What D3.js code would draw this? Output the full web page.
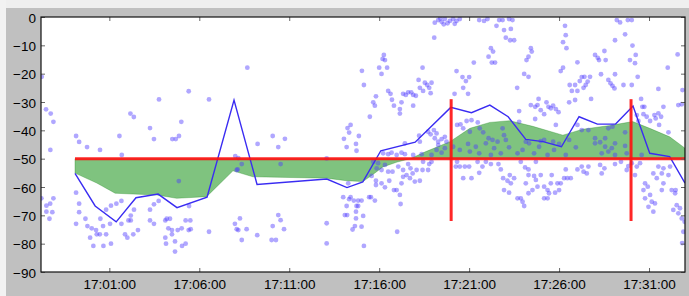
<!DOCTYPE html>
<html>
<head>
<meta charset="utf-8">
<script src="https://cdn.jsdelivr.net/npm/d3@7"></script>
<style>
  body { margin: 0; background: #c0c0c0; }
  svg { display: block; }
  text { font-family: "Liberation Sans", Arial, Helvetica, sans-serif; }
</style>
</head>
<body>
<div id="chart"></div>
<script>
// minutes after 17:00:00, signal level
var startTime = "16:57:12",
    endTime = "17:33:00",
    baseTime = "17:00:00";

var xTickLabels = ["17:01:00", "17:06:00", "17:11:00", "17:16:00", "17:21:00", "17:26:00", "17:31:00"];
var yTicks = [0, -10, -20, -30, -40, -50, -60, -70, -80, -90];

var threshold = -50;
var markerMinutes = [20, 30];
var markerRange = [-29, -72];

// raw samples (scatter)
var samples = [
  [-2.76,-21.1],[-2.52,-32.6],[-2.26,-34.1],[-2.11,-37],[-0.85,-42],[-0.68,-44.1],[-0.24,-45.9],[0.48,-46.9],[1.56,-42],[2.17,-34.1],
  [2.36,-35.3],[3.26,-39.2],[3.48,-43.1],[3.76,-29.1],[4.5,-43.1],[4.69,-43.1],[4.87,-42],[5,-37],[5.41,-26.2],[6.54,-29.1],
  [-2.28,-46.9],[-2.78,-64],[-2.5,-66.6],[-2.29,-65.9],[-2.11,-64],[-2.5,-68.7],[-2.17,-68.9],[-2.33,-71.2],[-0.85,-62],[-0.68,-65.9],
  [-0.68,-68.9],[-0.85,-73],[-0.33,-71.2],[-0.22,-73.8],[-0.07,-77.9],[0.11,-80.8],[0.02,-74.6],[0.26,-75.2],[0.3,-76.7],[0.47,-76.7],
  [0.5,-71.2],[0.65,-73.8],[0.67,-80.8],[0.82,-76.7],[0.82,-68],[1.09,-66.6],[1.04,-73],[1.09,-80],[1.39,-65.9],[1.67,-64.9],
  [1.67,-73],[1.69,-48.7],[1.87,-76.7],[2,-77.9],[2.06,-71.8],[2.19,-70.1],[2.19,-71.8],[2.33,-76.7],[2.37,-68],[2.59,-75.2],
  [3.26,-68],[3.26,-71.8],[3.48,-73],[3.48,-66.1],[3.74,-64.9],[4.11,-71.8],[4.11,-77.9],[4.19,-71.2],[4.37,-71.2],[4.28,-74.6],
  [4.48,-76.7],[4.48,-75.2],[4.15,-80],[4.65,-79.2],[4.65,-82.8],[4.8,-75.2],[4.86,-57.9],[5.02,-74.6],[5.04,-80.8],[5.24,-71.8],
  [5.24,-80],[5.41,-75.2],[5.43,-66.7],[5.5,-71.8],[5.52,-74.9],[6.54,-75.8],[8,-49.1],[8.17,-49.8],[7.98,-73],[8.17,-75.2],[8.13,-53.8],
  [8.67,-17.9],[9.24,-44.8],[10.08,-42],[10.39,-45.9],[10.76,-43],[14.04,-43],[14.19,-45.9],[14.24,-39.2],[14.41,-38.1],[14.33,-40.8],
  [14.71,-44.8],[14.87,-42],[15.04,-19],[15.15,-24],[15.48,-35.2],[8.36,-51.9],[8.08,-54],[10.52,-51.9],[13.08,-49.9],[14.74,-47.2],
  [14.28,-58.7],[14,-63.6],[14.41,-63.6],[14.33,-64.3],[14.19,-66.7],[14.59,-64.8],[14.83,-64.8],[15.02,-64.8],[14.74,-66.7],[14.83,-66.7],
  [14.71,-68.7],[14.09,-69.9],[14.22,-69.9],[14.71,-71.1],[15.11,-70.2],[14.65,-73.8],[14.52,-75],[15.02,-74],[15.15,-80.8],[15.44,-63.6],
  [15.76,-64.8],[8.26,-71.1],[8.08,-74.9],[8.36,-78.7],[8.63,-74.9],[9.22,-77],[10.08,-73.8],[10.39,-69.9],[10.52,-71.7],[10.71,-74.9],
  [10.02,-78.7],[10.26,-78.7],[13.08,-72.8],[13.08,-79.9],[15.82,-59.3],[16.13,-58.7],
  [19.28,-1.1],[19.47,-1.7],[19.65,-0.7],[19.93,-1.4],[20.11,-0.7],[20.3,-1.4],[20.48,-0.7],[19.59,-2.6],[19.06,-7.3],[19.09,-2],
  [19.4,-0.5],[19.8,-2.2],[20.2,-2.4],[16.26,-13.4],[16.19,-14.8],[16.32,-15.2],[16,-17.9],[16.44,-17.9],[16.13,-20.1],[18.41,-17.9],
  [20.3,-19.1],[20.63,-21.2],[21,-21.2],[20.82,-22.6],[21.26,-16.1],[18.19,-22.2],[18.54,-23.2],[18.67,-24],[18.91,-23.2],[18.78,-25],
  [18.26,-25],[18.86,-26.9],[18.44,-26.1],[20.67,-25],[20.94,-27.1],[20.19,-27.1],[16.5,-26.1],[16.63,-27.1],[15.82,-28],[16.71,-29.2],
  [15.67,-30.1],[15.76,-31.3],[16.82,-31.3],[17.33,-27.1],[17.48,-27.5],[17.61,-26.6],[17.78,-26.6],[17.89,-27.5],[18.04,-27.8],[17.24,-30.1],
  [17.15,-32.5],[17.15,-34.1],[17.89,-31.3],[20.33,-38.1],[20.52,-37.9],[20.86,-36.7],[21.13,-36.4],[20.67,-39.3],[21.04,-40.5],[18.22,-41.9],
  [18.72,-40.5],[18.86,-41.4],[19.04,-39.9],[19.19,-41.1],[19.09,-42.8],[19.28,-44],[19.47,-43.1],[19.65,-42.3],[19.74,-44],[17.43,-44.6],[18.26,-44],
  [21.56,-1.1],[21.83,-1.4],[22.02,-0.7],[22.67,-1.1],[22.86,-1.1],[23.22,-0.7],[23.41,-1.1],[22.52,-3.1],[22.94,-4.6],[23.32,-4.2],
  [23.04,-7.3],[23.28,-8.2],[23.5,-8.2],[26.33,-3.1],[26.37,-6.4],[26.22,-8.9],[26.41,-11],[22.21,-11],[22.33,-12.2],[22.08,-14],
  [22.26,-16.1],[22.44,-16.1],[24.43,-11],[24.48,-12.2],[24.3,-14],[24.19,-15.2],[27.02,-16],[26.22,-17.9],[26.09,-19.1],[24.06,-20.1],
  [24.3,-21.1],[27.26,-21.2],[27.15,-22.6],[23.67,-25],[26.59,-24],[26.89,-24],[26.71,-26.1],[27.02,-26.1],[26.89,-29.3],[26.56,-30.1],
  [24.86,-28.9],[24.43,-31.1],[24.67,-31.7],[24.8,-31.1],[25.3,-30.1],[25.41,-31.7],[25.54,-32.2],[25.67,-31.3],[25.82,-32.5],[24.98,-32.9],
  [25.17,-34.3],[25.97,-33.6],[23.78,-33.2],[24.67,-36],[23.78,-37],[25.82,-38.1],[21.48,-37.2],[21.59,-39.3],[22.86,-39.3],[22.08,-42.8],
  [22.94,-41.7],[23.04,-43.4],[22.3,-43.4],[21.78,-40.7],[25.17,-43.4],[25.67,-44],[27.02,-38.1],[27.26,-39.9],[26.56,-43.4],[24.15,-44],[24.98,-43.8],
  [29.21,-1.1],[29.39,-1.9],[29.82,-1.1],[30.04,-1.1],[29.67,-6.1],[29.11,-8.2],[30.08,-10.1],[28.52,-12],[28,-13.4],[28.15,-14.4],
  [28.22,-15.2],[28.59,-15.2],[30.26,-13.4],[29.94,-15.2],[30.22,-16.3],[32.59,-13.2],[32.04,-17.9],[27.41,-21.1],[27.72,-21.1],[27.59,-22.8],
  [27.48,-24],[27.36,-25],[28.33,-20.2],[29.11,-20.2],[28.74,-22.2],[28.86,-23.4],[28.97,-24.3],[29.08,-25.2],[29.58,-24],[30.04,-24],
  [30.37,-21.1],[27.78,-28.9],[31.52,-25.4],[32.86,-25.8],[32.63,-31.1],[32.82,-30.8],[30.56,-28.9],[30.63,-31.7],[30.74,-31.7],[30.69,-34.3],
  [30.87,-35.2],[31.06,-36.7],[31.3,-34.6],[31.52,-34],[31.67,-35.2],[31.37,-35.8],[31.8,-31.7],[31.56,-38.1],[32.08,-40.7],[30.32,-34.6],
  [30.41,-36.7],[28.97,-38.7],[28.74,-39.3],[29.67,-40.7],[27.63,-39.9],[28,-42.8],[28.56,-42.8],[28.28,-44.2],[29.11,-44.6],
  [16.22,-48.1],[16.5,-48.4],[16.69,-47.9],[16.97,-48.7],[17.24,-47.9],[17.43,-48.4],[17.89,-48.7],[18.36,-48.4],[18.91,-48.7],[19.19,-46.9],
  [19.47,-47.9],[19.65,-46.3],[19.28,-45.2],[20.11,-45.8],[20.48,-46.9],[20.94,-44.8],[21.04,-47.5],[21.37,-45.8],[15.94,-51.6],[15.67,-51.1],
  [16.32,-52.2],[15.86,-53.4],[16.13,-54],[16.5,-54.6],[16.74,-54.6],[17.06,-52.8],[17.33,-54],[17.61,-51.9],[17.74,-53.4],[17.86,-55.2],
  [18.08,-54],[17.52,-55.8],[17.33,-56.4],[17.71,-56.9],[17.98,-58.1],[18.26,-57.8],[18.41,-54],[18.72,-54],[18.78,-51.9],[18.44,-51.1],
  [18.91,-51.1],[15.58,-56.1],[15.82,-57.8],[16.32,-60.1],[16.56,-57.8],[16.82,-61.1],[16.97,-61.1],[17.15,-62.8],[17.24,-58.7],[15.54,-63.6],
  [17.19,-66],[17,-75.8],[20.26,-52.8],[20.48,-52.8],[20.76,-52.8],[21,-52.8],[20.67,-56.9],[21.13,-56.9],[20.33,-51.1],
  [21.93,-44.6],[22.39,-46.3],[22.76,-48.1],[23.22,-46],[23.69,-48.1],[23.97,-46.9],[24.61,-48.1],[24.89,-45.8],[25.36,-48.7],[25.72,-46.9],
  [26.37,-48.7],[26.93,-46],[22.21,-48.7],[21.56,-48.1],[22.58,-44],[24.33,-44.6],[26,-44.8],
  [21.47,-51.1],[21.74,-52.8],[21.56,-55],[21.93,-51.1],[22.21,-51.9],[22.63,-51.9],[22.76,-53.8],[23.87,-51.1],[24.71,-51.1],[24.11,-53.1],
  [24.3,-53.8],[22.89,-56.9],[23.13,-57.8],[23.26,-55.8],[23.32,-58.7],[23.5,-56.9],[22.94,-61.1],[23.22,-62],[24.15,-58.7],[24.3,-55.8],
  [24.61,-56.1],[24.71,-57.5],[24.8,-59.9],[24.52,-61.1],[24.98,-55.8],[25.17,-59.9],[25.36,-61.1],[25.44,-62.2],[25.59,-55.8],[25.54,-58.7],
  [25.78,-62],[25.91,-58.7],[26.09,-58.7],[26,-61.1],[26.28,-56.9],[26.46,-56.9],[26.65,-56.9],[26.37,-53.8],[27.02,-53.8],[27.26,-52.8],
  [24.3,-62.2],[23.69,-64],[23.87,-64],[23.97,-65.2],[24.06,-66.7],[25.17,-64],[25.36,-64],
  [28,-44.6],[28.56,-45.8],[28.93,-46.3],[29.11,-48.7],[29.67,-45.5],[29.76,-48.1],[30.59,-48.7],[28.37,-48.1],[28.74,-47.5],
  [27.36,-54.6],[27.54,-55.2],[27.63,-52.8],[28.28,-52.2],[28.37,-55.2],[28.52,-53.4],[29.11,-51.9],[29.44,-51.1],[29.76,-54],[29.85,-52.6],
  [30.04,-51.6],[30.32,-52.8],[30.5,-51.6],[30.22,-55.8],[30.78,-58.7],[30.93,-59.9],[30.69,-61.1],[31.06,-62.8],[30.78,-64],[31.15,-65.2],
  [30.97,-67],[31.24,-68.7],[31.33,-65.8],[31.24,-55.2],[31.43,-56.9],[31.52,-52.8],[31.8,-53.4],[31.71,-55.2],[31.8,-58.7],[31.71,-61.1],
  [32.08,-55.8],[32.17,-52.8],[32.26,-61.1],[32.45,-62.2],[32.48,-61.1],[32.35,-68.1],[32.54,-66.4],[32.72,-67.5],[32.63,-69.3],[32.82,-71.1],
  [32.91,-75.8],[32.98,-72.3],[32.84,-79.8]
];

// per-minute average (blue line)
var lineMinutes = [-0.91, 0.21, 1.38, 2.48, 3.71, 4.76, 6.43, 7.93, 9.21, 13.09, 14.21, 15.09, 16.09, 18.0,
  19.98, 21.13, 22.15, 23.17, 24.15, 25.11, 26.13, 27.11, 28.13, 29.14, 30.11, 31.04, 32.15, 33.0];
var lineValues = [-55.2, -66.7, -72.3, -63.8, -62.5, -67.3, -63.6, -29.3, -59.1, -57.2, -60.2, -58.2, -47.2, -44.2,
  -31.9, -33.8, -31.1, -35.2, -43.2, -44, -45.8, -35.2, -37.8, -37.8, -31.4, -48.1, -49.3, -58.6];

// smoothed trend (green band against threshold)
var bandMinutes = [-0.91, 0.3, 1.32, 2.32, 3.63, 4.74, 6.41, 7.87, 8.98, 13.08, 14.19, 15.09, 15.65, 16.21, 17.0,
  17.73, 18.56, 19.93, 21.04, 22.15, 23.26, 24.54, 26.21, 27.32, 28.82, 30.09, 31.04, 32.15, 33.0];
var bandValues = [-55.1, -58.6, -62.2, -62.5, -62.8, -64, -63.4, -54.3, -56.4, -56.9, -57.8, -58.1, -55.6, -52.9, -51.2,
  -50, -47.6, -44, -39.3, -37.2, -36.6, -38.6, -41.7, -39.6, -38.3, -36.9, -39.3, -42.3, -46.3];

var W = 689, H = 296;
var margin = {top: 17, right: 4, bottom: 24, left: 41};
var width = W - margin.left - margin.right,
    height = H - margin.top - margin.bottom;

var parse = d3.timeParse("%H:%M:%S");
var base = parse(baseTime);
function at(m) { return new Date(base.getTime() + m * 60000); }

var x = d3.scaleTime().domain([parse(startTime), parse(endTime)]).range([0, width]);
var y = d3.scaleLinear().domain([-90, 0]).range([height, 0]);

var svg = d3.select("#chart").append("svg").attr("width", W).attr("height", H);

// window chrome strips
svg.append("rect").attr("x", 0).attr("y", 0).attr("width", W).attr("height", 8).attr("fill", "#efefef");
svg.append("rect").attr("x", 0).attr("y", 0).attr("width", 6).attr("height", H).attr("fill", "#f2f2f2");

var g = svg.append("g").attr("transform", "translate(" + margin.left + "," + margin.top + ")");

g.append("defs").append("clipPath").attr("id", "plot-clip")
  .append("rect").attr("width", width).attr("height", height);

g.append("rect").attr("width", width).attr("height", height).attr("fill", "#fff");

var plot = g.append("g").attr("clip-path", "url(#plot-clip)");

var band = bandMinutes.map(function(m, i) { return {t: at(m), v: bandValues[i]}; });
var avg = lineMinutes.map(function(m, i) { return {t: at(m), v: lineValues[i]}; });

plot.append("path")
  .datum(band)
  .attr("fill", "rgb(0,135,0)")
  .attr("fill-opacity", 0.5)
  .attr("stroke", "rgb(0,120,0)")
  .attr("stroke-opacity", 0.35)
  .attr("stroke-width", 0.8)
  .attr("d", d3.area()
    .x(function(d) { return x(d.t); })
    .y0(y(threshold))
    .y1(function(d) { return y(d.v); }));

plot.selectAll("circle.sample")
  .data(samples)
  .enter()
  .append("circle")
  .attr("class", "sample")
  .attr("cx", function(d) { return x(at(d[0])); })
  .attr("cy", function(d) { return y(d[1]); })
  .attr("r", 2.4)
  .attr("fill", "rgb(80,60,255)")
  .attr("fill-opacity", 0.45);

plot.append("path")
  .datum(avg)
  .attr("fill", "none")
  .attr("stroke", "#3a2cf2")
  .attr("stroke-width", 1.4)
  .attr("d", d3.line()
    .x(function(d) { return x(d.t); })
    .y(function(d) { return y(d.v); }));

plot.append("line")
  .attr("x1", x(at(lineMinutes[0])))
  .attr("x2", width)
  .attr("y1", y(threshold))
  .attr("y2", y(threshold))
  .attr("stroke", "#ff1010")
  .attr("stroke-opacity", 0.9)
  .attr("stroke-width", 3);

plot.selectAll("line.marker")
  .data(markerMinutes)
  .enter()
  .append("line")
  .attr("class", "marker")
  .attr("x1", function(d) { return x(at(d)); })
  .attr("x2", function(d) { return x(at(d)); })
  .attr("y1", y(markerRange[0]))
  .attr("y2", y(markerRange[1]))
  .attr("stroke", "#ff1010")
  .attr("stroke-opacity", 0.9)
  .attr("stroke-width", 3);

// axes, ticks pointing inward on all four sides
var xTicks = xTickLabels.map(parse);
var minus = function(d) { return d < 0 ? "\u2212" + Math.abs(d) : String(d); };

var xAxis = g.append("g")
  .attr("transform", "translate(0," + height + ")")
  .call(d3.axisBottom(x).tickValues(xTicks).tickFormat(d3.timeFormat("%H:%M:%S")).tickSize(-4).tickPadding(7));
var yAxis = g.append("g")
  .call(d3.axisLeft(y).tickValues(yTicks).tickFormat(minus).tickSize(-4).tickPadding(5));
var xTop = g.append("g")
  .call(d3.axisTop(x).tickValues(xTicks).tickFormat("").tickSize(-4));
var yRight = g.append("g")
  .attr("transform", "translate(" + width + ",0)")
  .call(d3.axisRight(y).tickValues(yTicks).tickFormat("").tickSize(-4));

[xAxis, yAxis, xTop, yRight].forEach(function(a) {
  a.select(".domain").remove();
  a.selectAll(".tick line").attr("stroke", "#666");
  a.selectAll("text").attr("fill", "#000").style("font-size", "13.5px");
});
yAxis.selectAll("text").attr("dy", "0.38em");

g.append("rect")
  .attr("width", width)
  .attr("height", height)
  .attr("fill", "none")
  .attr("stroke", "#111")
  .attr("stroke-width", 1.2);
</script>
</body>
</html>
